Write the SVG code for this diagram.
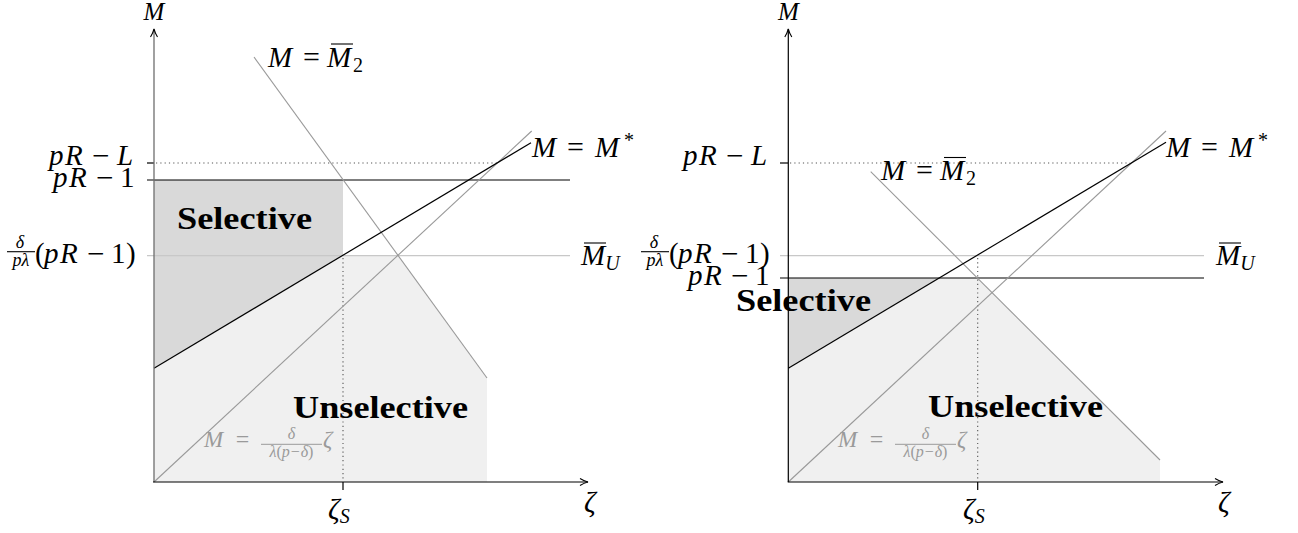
<svg xmlns="http://www.w3.org/2000/svg" width="1298" height="533" viewBox="0 0 1298 533">
<style>
text{font-family:"Liberation Serif","Times New Roman",serif;fill:#000}
.m{font-family:"Liberation Serif","Times New Roman",serif;font-size:29px;font-style:italic}
.u{font-style:normal}
.op{font-size:30px;font-style:normal}
.mn{font-size:31px;font-style:normal}
.sub{font-size:20px}
.fr{font-family:"Liberation Serif",serif;font-size:18px;font-style:italic}
.b{font-family:"Liberation Serif",serif;font-size:32px;font-weight:bold}
.g{fill:#9a9a9a}
.ax{stroke:#000;stroke-width:1.2;fill:none}
.axg{stroke:#6e6e6e;stroke-width:1.3;fill:none}
.blk{stroke:#000;stroke-width:1.2;fill:none}
.gry{stroke:#999;stroke-width:1.1;fill:none}
.lgt{stroke:#c8c8c8;stroke-width:1.2;fill:none}
.dot{stroke:#555;stroke-width:1.1;stroke-dasharray:1.2 3.1;fill:none}
.ov{stroke:#000;stroke-width:1.1}
.sel{fill:#d9d9d9}
.uns{fill:#f0f0f0}
</style>
<defs>
<marker id="arr" viewBox="0 0 10 10" refX="9" refY="5" markerWidth="10" markerHeight="10" markerUnits="userSpaceOnUse" orient="auto">
<path d="M1,1.5 Q5,4 9,5 Q5,6 1,8.5" fill="none" stroke="#000" stroke-width="1.1"/>
</marker>
</defs>

<!-- LEFT PANEL -->
<g id="left-regions">
<polygon id="left-selective-area" class="sel" points="154,180 343,180 343,255.7 154,368.3"/>
<polygon id="left-unselective-area" class="uns" points="154,368.3 343,255.7 398.2,255.7 487,378 487,482 154,482"/>
</g>
<g id="left-connectors">
<line class="lgt" x1="147" y1="255.7" x2="570" y2="255.7"/>
<line class="blk" x1="147" y1="180" x2="570" y2="180"/>
<line class="blk" x1="147" y1="163" x2="154" y2="163"/>
<line class="dot" x1="156" y1="163" x2="497" y2="163"/>
<line class="dot" x1="343" y1="258" x2="343" y2="481"/>
<line class="blk" x1="343" y1="482" x2="343" y2="490"/>
<line class="gry" x1="254" y1="57" x2="487" y2="378"/>
<line class="gry" x1="154" y1="482" x2="531.7" y2="131"/>
<line class="blk" x1="154" y1="368.3" x2="531" y2="142.7"/>
<line class="axg" x1="154" y1="482" x2="154" y2="29" marker-end="url(#arr)"/>
<line class="ax" x1="153" y1="482" x2="588" y2="482" marker-end="url(#arr)"/>
</g>
<g id="left-labels">
<g id="left-M-axis"><text class="m" style="font-size:25px" x="154" y="20" text-anchor="middle">M</text></g>
<g id="left-zeta-axis"><text class="m" x="584" y="512">ζ</text></g>
<g id="left-zetaS"><text class="m" x="328" y="519">ζ<tspan class="sub" dy="4">S</tspan></text></g>
<g id="left-pRL"><text class="m" y="165"><tspan x="49">p</tspan><tspan x="65">R</tspan><tspan class="mn" x="92" y="166">−</tspan><tspan x="117" y="165">L</tspan></text></g>
<g id="left-pR1"><text class="m" y="187"><tspan x="53">p</tspan><tspan x="69">R</tspan><tspan class="mn" x="96" y="188">−</tspan><tspan class="u" x="120" y="187">1</tspan></text></g>
<g id="left-frac">
<text class="fr" x="20" y="248" text-anchor="middle">δ</text>
<line class="ov" x1="7" y1="251.7" x2="35" y2="251.7"/>
<text class="fr" x="21" y="266" text-anchor="middle">pλ</text>
<text class="m" y="263"><tspan class="u" x="35">(</tspan><tspan x="44">p</tspan><tspan x="60">R</tspan><tspan class="mn" x="87" y="264">−</tspan><tspan class="u" x="111" y="263">1</tspan><tspan class="u" x="126">)</tspan></text>
</g>
<g id="left-MU"><text class="m" x="581" y="265">M<tspan class="sub" dy="5">U</tspan></text><line class="ov" x1="584" y1="243" x2="606" y2="243"/></g>
<g id="left-M2"><text class="m" y="66.7"><tspan x="268">M</tspan><tspan class="op" x="303">=</tspan><tspan x="327">M</tspan><tspan class="sub u" x="353" dy="5">2</tspan></text><line class="ov" x1="331" y1="44" x2="353" y2="44"/></g>
<g id="left-Mstar"><text class="m" y="156.7"><tspan x="532">M</tspan><tspan class="op" x="567">=</tspan><tspan x="595">M</tspan><tspan class="sub u" x="624" dy="-10">*</tspan></text></g>
<g id="left-selective"><text class="b" x="177" y="229" textLength="135" lengthAdjust="spacingAndGlyphs">Selective</text></g>
<g id="left-unselective"><text class="b" x="293" y="418" textLength="175" lengthAdjust="spacingAndGlyphs">Unselective</text></g>
<g id="left-formula">
<text class="m g" style="font-size:23px" x="204" y="447">M</text>
<text class="g" style="font-size:24px" x="242.5" y="447" text-anchor="middle">=</text>
<text class="g fr" style="font-size:16px" x="291.5" y="439" text-anchor="middle">δ</text>
<line x1="261" y1="444.3" x2="322" y2="444.3" stroke="#9a9a9a" stroke-width="1"/>
<text class="g fr" style="font-size:16px" x="291.5" y="457" text-anchor="middle">λ<tspan style="font-style:normal">(</tspan>p−δ<tspan style="font-style:normal">)</tspan></text>
<text class="m g" style="font-size:23px" x="323" y="447">ζ</text>
</g>
</g>

<!-- RIGHT PANEL -->
<g id="right-regions">
<polygon id="right-selective-area" class="sel" points="788.3,278 939.3,278 788.3,368.3"/>
<polygon id="right-unselective-area" class="uns" points="788.3,368.3 939.3,278 977.4,278 1160,460 1160,482 788.3,482"/>
</g>
<g id="right-connectors">
<line class="lgt" x1="780" y1="255.7" x2="1204" y2="255.7"/>
<line class="blk" x1="780" y1="278" x2="1204" y2="278"/>
<line class="blk" x1="780" y1="163" x2="788" y2="163"/>
<line class="dot" x1="790" y1="163" x2="1130" y2="163"/>
<line class="dot" x1="977.7" y1="258" x2="977.7" y2="481"/>
<line class="blk" x1="977.7" y1="482" x2="977.7" y2="490"/>
<line class="gry" x1="870.7" y1="171.7" x2="1160" y2="460"/>
<line class="gry" x1="788.3" y1="482" x2="1166" y2="131"/>
<line class="blk" x1="788.3" y1="368.3" x2="1166" y2="142.3"/>
<line class="ax" x1="788.3" y1="482" x2="788.3" y2="29" marker-end="url(#arr)"/>
<line class="ax" x1="787.7" y1="482" x2="1223" y2="482" marker-end="url(#arr)"/>
</g>
<g id="right-labels">
<g id="right-M-axis"><text class="m" style="font-size:25px" x="788.5" y="20" text-anchor="middle">M</text></g>
<g id="right-zeta-axis"><text class="m" x="1218" y="512">ζ</text></g>
<g id="right-zetaS"><text class="m" x="963" y="519">ζ<tspan class="sub" dy="4">S</tspan></text></g>
<g id="right-pRL"><text class="m" y="165"><tspan x="683">p</tspan><tspan x="699">R</tspan><tspan class="mn" x="726" y="166">−</tspan><tspan x="751" y="165">L</tspan></text></g>
<g id="right-pR1"><text class="m" y="285"><tspan x="688">p</tspan><tspan x="704">R</tspan><tspan class="mn" x="731" y="286">−</tspan><tspan class="u" x="755" y="285">1</tspan></text></g>
<g id="right-frac">
<text class="fr" x="654" y="248" text-anchor="middle">δ</text>
<line class="ov" x1="641" y1="251.7" x2="669" y2="251.7"/>
<text class="fr" x="655" y="266" text-anchor="middle">pλ</text>
<text class="m" y="263"><tspan class="u" x="669">(</tspan><tspan x="678">p</tspan><tspan x="694">R</tspan><tspan class="mn" x="721" y="264">−</tspan><tspan class="u" x="745" y="263">1</tspan><tspan class="u" x="760">)</tspan></text>
</g>
<g id="right-MU"><text class="m" x="1216" y="265">M<tspan class="sub" dy="5">U</tspan></text><line class="ov" x1="1219" y1="243" x2="1241" y2="243"/></g>
<g id="right-M2"><text class="m" y="180"><tspan x="881">M</tspan><tspan class="op" x="916">=</tspan><tspan x="940">M</tspan><tspan class="sub u" x="966" dy="5">2</tspan></text><line class="ov" x1="944" y1="157.5" x2="966" y2="157.5"/></g>
<g id="right-Mstar"><text class="m" y="156.7"><tspan x="1166">M</tspan><tspan class="op" x="1201">=</tspan><tspan x="1229">M</tspan><tspan class="sub u" x="1258" dy="-10">*</tspan></text></g>
<g id="right-selective"><text class="b" x="736" y="311" textLength="135" lengthAdjust="spacingAndGlyphs">Selective</text></g>
<g id="right-unselective"><text class="b" x="928" y="417" textLength="175" lengthAdjust="spacingAndGlyphs">Unselective</text></g>
<g id="right-formula">
<text class="m g" style="font-size:23px" x="838" y="447">M</text>
<text class="g" style="font-size:24px" x="876.5" y="447" text-anchor="middle">=</text>
<text class="g fr" style="font-size:16px" x="925.5" y="439" text-anchor="middle">δ</text>
<line x1="895" y1="444.3" x2="956" y2="444.3" stroke="#9a9a9a" stroke-width="1"/>
<text class="g fr" style="font-size:16px" x="925.5" y="457" text-anchor="middle">λ<tspan style="font-style:normal">(</tspan>p−δ<tspan style="font-style:normal">)</tspan></text>
<text class="m g" style="font-size:23px" x="957" y="447">ζ</text>
</g>
</g>
</svg>
